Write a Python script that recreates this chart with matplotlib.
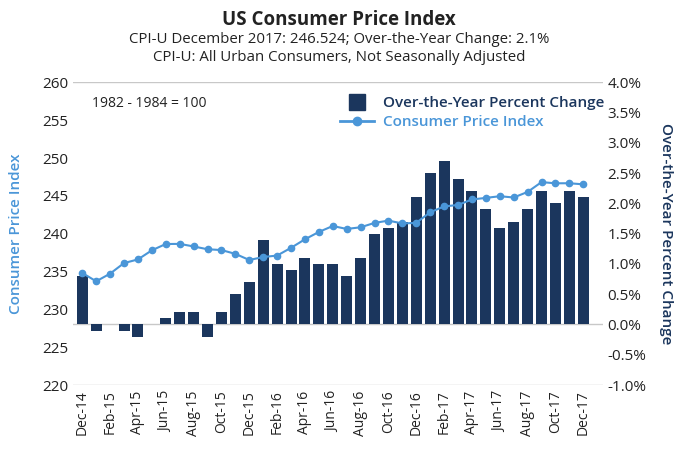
import matplotlib.pyplot as plt
from matplotlib.lines import Line2D

plt.rcParams['font.family'] = ['Open Sans', 'DejaVu Sans']

# Monthly data, Dec 2014 - Dec 2017
months = ['Dec-14', 'Jan-15', 'Feb-15', 'Mar-15', 'Apr-15', 'May-15', 'Jun-15', 'Jul-15',
          'Aug-15', 'Sep-15', 'Oct-15', 'Nov-15', 'Dec-15', 'Jan-16', 'Feb-16', 'Mar-16',
          'Apr-16', 'May-16', 'Jun-16', 'Jul-16', 'Aug-16', 'Sep-16', 'Oct-16', 'Nov-16',
          'Dec-16', 'Jan-17', 'Feb-17', 'Mar-17', 'Apr-17', 'May-17', 'Jun-17', 'Jul-17',
          'Aug-17', 'Sep-17', 'Oct-17', 'Nov-17', 'Dec-17']
cpi = [234.812, 233.707, 234.722, 236.119, 236.599, 237.805, 238.638, 238.654,
       238.316, 237.945, 237.838, 237.336, 236.525, 236.916, 237.111, 238.132,
       239.261, 240.229, 241.018, 240.628, 240.849, 241.428, 241.729, 241.353,
       241.432, 242.839, 243.603, 243.801, 244.524, 244.733, 244.955, 244.786,
       245.519, 246.819, 246.663, 246.669, 246.524]
pct_change = [0.8, -0.1, 0.0, -0.1, -0.2, 0.0, 0.1, 0.2,
              0.2, -0.2, 0.2, 0.5, 0.7, 1.4, 1.0, 0.9,
              1.1, 1.0, 1.0, 0.8, 1.1, 1.5, 1.6, 1.7,
              2.1, 2.5, 2.7, 2.4, 2.2, 1.9, 1.6, 1.7,
              1.9, 2.2, 2.0, 2.2, 2.1]
left_ticks = [220, 225, 230, 235, 240, 245, 250, 255, 260]
right_ticks = [-1.0, -0.5, 0.0, 0.5, 1.0, 1.5, 2.0, 2.5, 3.0, 3.5, 4.0]

bar_color = '#1b365d'
line_color = '#4a96d8'
text_color = '#222222'
grid_color = '#c8c8c8'

fig = plt.figure(figsize=(6.78, 4.49), dpi=100)
ax_bar = fig.add_axes([0.108, 0.1425, 0.781, 0.674])
ax_line = ax_bar.twinx()
x = list(range(len(months)))

# Bars on the percent-change scale (right side)
ax_bar.bar(x, pct_change, width=0.79, color=bar_color, zorder=2)
ax_bar.set_ylim(-1.0, 4.0)
ax_bar.set_yticks(right_ticks)
ax_bar.set_yticklabels([f'{t:.1f}%' for t in right_ticks])
ax_bar.axhline(0, color=grid_color, lw=1, zorder=1)
ax_bar.axhline(4.0, color=grid_color, lw=1, zorder=1)
ax_bar.axhline(-1.0, color=grid_color, lw=1, zorder=1)
ax_bar.set_xlim(-0.65, 37.4)
ax_bar.set_xticks(x[::2])
ax_bar.set_xticklabels(months[::2], rotation=90, fontsize=10, color=text_color)

# Line on the CPI scale (left side)
ax_line.plot(x, cpi, color=line_color, lw=1.5, marker='o', markersize=4.5, zorder=3)
ax_line.set_ylim(220, 260)
ax_line.set_yticks(left_ticks)

# swap sides: bars' scale on the right, CPI scale on the left
ax_bar.yaxis.tick_right()
ax_bar.yaxis.set_label_position('right')
ax_line.yaxis.tick_left()
ax_line.yaxis.set_label_position('left')
ax_bar.set_ylabel('Over-the-Year Percent Change', color=bar_color, fontsize=11,
                  fontweight='semibold', rotation=270, labelpad=19)
ax_line.set_ylabel('Consumer Price Index', color=line_color, fontsize=11,
                   fontweight='semibold', labelpad=14)

for a in (ax_bar, ax_line):
    for s in a.spines.values():
        s.set_visible(False)
    a.tick_params(length=0, labelsize=11, labelcolor=text_color)
ax_bar.tick_params(axis='x', labelsize=10, pad=4)

ax_line.text(0.035, 0.93, '1982 - 1984 = 100', transform=ax_line.transAxes,
             fontsize=10, color=text_color, va='center')

handles = [Line2D([], [], marker='s', color=bar_color, linestyle='none', markersize=11),
           Line2D([], [], marker='o', color=line_color, lw=2, markersize=6)]
leg = ax_line.legend(handles, ['Over-the-Year Percent Change', 'Consumer Price Index'],
                     loc='upper right', bbox_to_anchor=(1.02, 0.985), frameon=False,
                     prop={'size': 11, 'weight': 'semibold'}, handlelength=2.2,
                     handletextpad=0.6, borderaxespad=0.2, labelspacing=0.35)
for t, c in zip(leg.get_texts(), [bar_color, line_color]):
    t.set_color(c)

fig.text(0.5, 0.945, 'US Consumer Price Index', ha='center', fontsize=13.5,
         fontweight='bold', color=text_color)
fig.text(0.5, 0.904, 'CPI-U December 2017: 246.524; Over-the-Year Change: 2.1%',
         ha='center', fontsize=10.8, color=text_color)
fig.text(0.5, 0.864, 'CPI-U: All Urban Consumers, Not Seasonally Adjusted',
         ha='center', fontsize=10.8, color=text_color)

fig.savefig('out.png', dpi=100)
